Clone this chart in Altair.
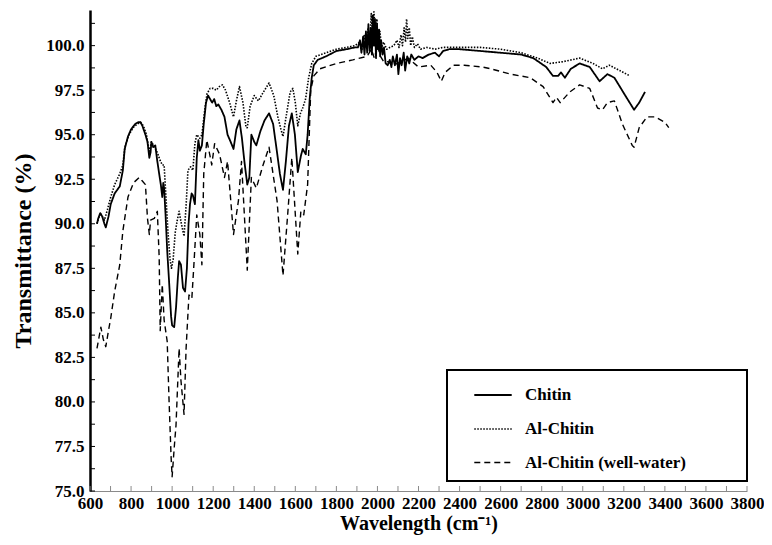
import altair as alt
import pandas as pd

# ---- data (wavenumber cm-1, transmittance %) ----
chitin = [
    (634, 90.0), (640, 90.3), (650, 90.6), (660, 90.4), (670, 90.0), (677, 89.8), (690, 90.4),
    (701, 91.1), (720, 91.7), (745, 92.1), (760, 93.0), (769, 94.2), (785, 94.9), (800, 95.3),
    (820, 95.6), (835, 95.7), (846, 95.7), (855, 95.5), (870, 95.0), (880, 94.6), (889, 93.7),
    (895, 94.0), (899, 94.6), (908, 94.3), (918, 94.4), (928, 93.5), (937, 92.8), (945, 92.2),
    (952, 91.5), (957, 92.3), (961, 92.0), (968, 90.5), (976, 88.5), (985, 86.8), (995, 84.8),
    (1000, 84.3), (1010, 84.2), (1019, 85.3), (1028, 87.0), (1034, 87.9), (1043, 87.7),
    (1053, 86.4), (1063, 86.2), (1072, 87.5), (1080, 90.0), (1087, 91.1), (1095, 91.7),
    (1101, 91.6), (1111, 91.1), (1120, 93.7), (1128, 94.7), (1135, 94.1), (1145, 94.4),
    (1154, 95.6), (1165, 96.8), (1175, 97.2), (1185, 97.0), (1195, 96.8), (1205, 97.0),
    (1215, 96.6), (1225, 96.7), (1240, 96.4), (1255, 96.0), (1270, 95.0), (1285, 94.6),
    (1299, 94.2), (1313, 95.3), (1328, 95.8), (1340, 94.8), (1352, 93.5), (1366, 92.2),
    (1376, 92.6), (1386, 95.0), (1400, 94.6), (1410, 94.4), (1430, 95.2), (1450, 95.8),
    (1472, 96.2), (1492, 95.6), (1511, 94.0), (1525, 92.8), (1540, 91.9), (1554, 93.5),
    (1569, 95.5), (1583, 96.2), (1598, 95.0), (1612, 92.9), (1627, 93.8), (1636, 94.2),
    (1651, 93.9), (1660, 95.0), (1670, 97.0), (1680, 98.2), (1690, 98.9), (1709, 99.2),
    (1750, 99.4), (1800, 99.7), (1850, 99.8), (1890, 99.9), (1905, 99.9), (1915, 100.3),
    (1922, 99.6), (1930, 100.5), (1937, 99.5), (1944, 100.8), (1950, 99.6), (1956, 101.2),
    (1962, 99.7), (1968, 101.0), (1973, 99.5), (1978, 101.7), (1983, 100.0), (1988, 101.5),
    (1993, 99.3), (1998, 101.2), (2003, 99.8), (2008, 100.9), (2013, 99.4), (2018, 100.3),
    (2025, 99.5), (2032, 99.9), (2040, 99.0), (2050, 98.9), (2060, 99.2), (2068, 98.8),
    (2075, 99.4), (2085, 98.9), (2095, 99.5), (2102, 98.4), (2110, 99.3), (2118, 98.9),
    (2128, 99.6), (2135, 98.6), (2145, 99.4), (2155, 99.0), (2165, 99.5), (2180, 99.2),
    (2200, 99.4), (2220, 99.3), (2250, 99.5), (2280, 99.6), (2300, 99.4), (2320, 99.7),
    (2350, 99.8), (2400, 99.8), (2500, 99.7), (2600, 99.6), (2700, 99.5), (2759, 99.3),
    (2822, 98.8), (2855, 98.3), (2880, 98.3), (2894, 98.5), (2913, 98.2), (2942, 98.7),
    (2985, 99.0), (3034, 98.8), (3082, 98.0), (3120, 98.4), (3154, 98.2), (3207, 97.2),
    (3250, 96.4), (3275, 96.8), (3303, 97.4),
]

al_chitin = [
    (634, 90.0), (650, 90.6), (670, 90.2), (685, 90.8), (701, 91.5), (720, 92.2), (745, 92.8),
    (760, 93.3), (770, 94.3), (790, 95.0), (810, 95.4), (830, 95.6), (846, 95.7), (860, 95.5),
    (875, 95.0), (889, 94.0), (899, 94.6), (915, 94.3), (928, 94.0), (940, 93.6), (952, 93.3),
    (961, 93.3), (970, 91.5), (980, 89.5), (990, 88.0), (997, 87.5), (1005, 88.0), (1015, 89.5),
    (1025, 90.2), (1034, 90.7), (1045, 90.0), (1058, 89.3), (1068, 91.0), (1077, 93.0),
    (1090, 93.2), (1101, 93.0), (1111, 94.5), (1120, 95.0), (1135, 94.8), (1145, 95.0),
    (1160, 96.5), (1170, 97.3), (1185, 97.6), (1200, 97.6), (1215, 97.5), (1230, 97.7),
    (1245, 97.8), (1260, 97.5), (1280, 96.8), (1299, 96.0), (1313, 96.9), (1328, 97.7),
    (1345, 96.8), (1360, 95.4), (1366, 95.4), (1380, 96.6), (1400, 97.2), (1420, 96.9),
    (1445, 97.4), (1472, 97.9), (1495, 97.2), (1515, 96.0), (1530, 95.3), (1540, 94.9),
    (1555, 96.0), (1575, 97.4), (1588, 97.6), (1600, 96.8), (1612, 95.5), (1625, 96.2),
    (1636, 96.5), (1650, 97.0), (1665, 98.2), (1680, 99.0), (1700, 99.4), (1750, 99.6),
    (1800, 99.8), (1850, 99.9), (1890, 100.0), (1915, 100.2), (1925, 99.8), (1935, 100.6),
    (1945, 99.9), (1955, 101.0), (1962, 100.2), (1970, 101.8), (1976, 100.4), (1983, 101.9),
    (1990, 100.5), (1997, 101.5), (2004, 100.0), (2012, 100.8), (2020, 99.9), (2030, 100.2),
    (2045, 99.8), (2060, 99.9), (2080, 100.0), (2095, 100.3), (2105, 99.9), (2115, 100.6),
    (2122, 100.0), (2130, 101.0), (2137, 100.2), (2142, 101.5), (2148, 100.4), (2155, 101.0),
    (2162, 100.0), (2170, 100.5), (2180, 99.9), (2195, 100.1), (2210, 99.8), (2240, 99.9),
    (2280, 99.8), (2320, 99.9), (2400, 99.9), (2500, 99.9), (2600, 99.8), (2700, 99.6),
    (2780, 99.3), (2841, 99.0), (2904, 99.1), (2985, 99.3), (3050, 99.0), (3096, 98.7),
    (3130, 98.9), (3180, 98.6), (3230, 98.3),
]

al_chitin_ww = [
    (634, 83.0), (653, 84.2), (665, 83.5), (677, 83.1), (690, 84.0), (701, 84.7), (720, 86.2),
    (745, 87.7), (760, 89.6), (785, 91.5), (812, 92.3), (840, 92.6), (855, 92.4), (870, 92.2),
    (880, 90.3), (889, 89.4), (895, 90.2), (913, 90.3), (928, 90.7), (937, 88.1), (942, 84.0),
    (952, 86.6), (961, 84.6), (976, 83.4), (985, 80.1), (995, 76.9), (1000, 75.8), (1010, 77.4),
    (1019, 78.7), (1034, 83.0), (1043, 81.2), (1058, 79.3), (1068, 83.0), (1082, 86.0),
    (1096, 85.8), (1106, 87.7), (1120, 90.5), (1135, 89.4), (1145, 87.7), (1154, 92.8),
    (1169, 94.7), (1183, 93.9), (1193, 93.3), (1207, 94.5), (1231, 93.9), (1255, 92.6),
    (1270, 93.5), (1299, 89.4), (1323, 91.3), (1338, 93.5), (1366, 87.4), (1386, 92.6),
    (1410, 92.0), (1443, 93.3), (1472, 94.3), (1511, 91.3), (1540, 87.1), (1564, 90.7),
    (1583, 93.7), (1612, 88.3), (1627, 90.7), (1641, 90.5), (1660, 92.2), (1675, 97.5),
    (1690, 98.3), (1720, 98.7), (1800, 99.0), (1880, 99.2), (1950, 99.4), (1970, 99.8),
    (1985, 99.3), (2000, 100.0), (2015, 99.4), (2030, 99.1), (2050, 99.1), (2080, 98.9),
    (2150, 99.3), (2200, 98.8), (2260, 98.9), (2290, 98.5), (2311, 98.0), (2330, 98.5),
    (2370, 98.9), (2422, 98.9), (2510, 98.8), (2552, 98.7), (2648, 98.4), (2744, 98.2),
    (2807, 97.7), (2855, 96.8), (2872, 97.1), (2890, 96.8), (2937, 97.4), (2985, 97.8),
    (3034, 97.6), (3072, 96.5), (3096, 96.4), (3120, 96.8), (3154, 96.9), (3193, 95.6),
    (3241, 94.4), (3250, 94.3), (3275, 95.4), (3313, 96.0), (3352, 96.0), (3400, 95.7),
    (3419, 95.4),
]

series_names = ["Chitin", "Al-Chitin", "Al-Chitin (well-water)"]
x_label_values = list(range(600, 3801, 200))
x_tick_values = list(range(600, 3801, 100))
y_label_values = [75.0, 77.5, 80.0, 82.5, 85.0, 87.5, 90.0, 92.5, 95.0, 97.5, 100.0]
y_tick_values = [75 + 1.25 * i for i in range(22)]

rows = []
for name, pts in zip(series_names, [chitin, al_chitin, al_chitin_ww]):
    for w, t in pts:
        rows.append({"series": name, "wn": w, "T": t})
df = pd.DataFrame(rows)

FONT = "Liberation Serif"
PLOT_W, PLOT_H = 657, 481
x_scale = alt.Scale(domain=[600, 3800], nice=False, zero=False)
y_scale = alt.Scale(domain=[75, 102], nice=False, zero=False)

x_axis = alt.Axis(title="Wavelength (cm⁻¹)", values=x_label_values, format="d",
                  ticks=False, grid=False, domainColor="#8a8a8a", domainWidth=1,
                  labelFlush=False, labelPadding=4, titlePadding=2)
y_axis = alt.Axis(title="Transmittance (%)", values=y_label_values, format=".1f",
                  ticks=False, grid=False, domainColor="black", domainWidth=2.5,
                  labelPadding=6, titlePadding=10)

lines = alt.Chart(df).mark_line(color="black", strokeJoin="round").encode(
    x=alt.X("wn:Q", scale=x_scale, axis=x_axis),
    y=alt.Y("T:Q", scale=y_scale, axis=y_axis),
    strokeDash=alt.StrokeDash("series:N",
                              scale=alt.Scale(domain=series_names,
                                              range=[[1, 0], [1.5, 1.5], [6, 4]]),
                              legend=alt.Legend(title=None, orient="none", legendX=PLOT_W - 274,
                                                legendY=365, symbolType="stroke",
                                                symbolSize=1400, symbolStrokeColor="black",
                                                labelOffset=12, rowPadding=6, padding=0,
                                                labelLimit=300)),
    strokeWidth=alt.StrokeWidth("series:N",
                                scale=alt.Scale(domain=series_names, range=[1.8, 1.4, 2.0])),
)

xticks = alt.Chart(pd.DataFrame({"wn": x_tick_values})).mark_rule(color="#8a8a8a", strokeWidth=1).encode(
    x=alt.X("wn:Q", scale=x_scale, axis=x_axis),
    y=alt.value(PLOT_H), y2=alt.value(PLOT_H - 5),
)
yticks = alt.Chart(pd.DataFrame({"T": y_tick_values})).mark_rule(color="black", strokeWidth=1).encode(
    y=alt.Y("T:Q", scale=y_scale, axis=y_axis),
    x=alt.value(0), x2=alt.value(5),
)
legend_box = alt.Chart(pd.DataFrame({"a": [0]})).mark_rect(
    fillOpacity=0, stroke="black", strokeWidth=2
).encode(x=alt.value(PLOT_W - 300), x2=alt.value(PLOT_W), y=alt.value(360), y2=alt.value(471))

chart = alt.layer(lines, xticks, yticks, legend_box).properties(
    width=PLOT_W, height=PLOT_H,
    padding={"left": 82, "top": 2, "right": 17, "bottom": 46},
    autosize=alt.AutoSizeParams(type="none"),
).configure_view(stroke=None).configure_axis(
    labelFont=FONT, labelFontWeight="bold", labelFontSize=17, labelColor="black",
    titleFont=FONT, titleFontWeight="bold", titleColor="black",
).configure_axisX(titleFontSize=20).configure_axisY(titleFontSize=24).configure_legend(
    labelFont=FONT, labelFontWeight="bold", labelFontSize=17, labelColor="black",
)

chart.save("out.html", embed_options={"renderer": "svg", "actions": False})
